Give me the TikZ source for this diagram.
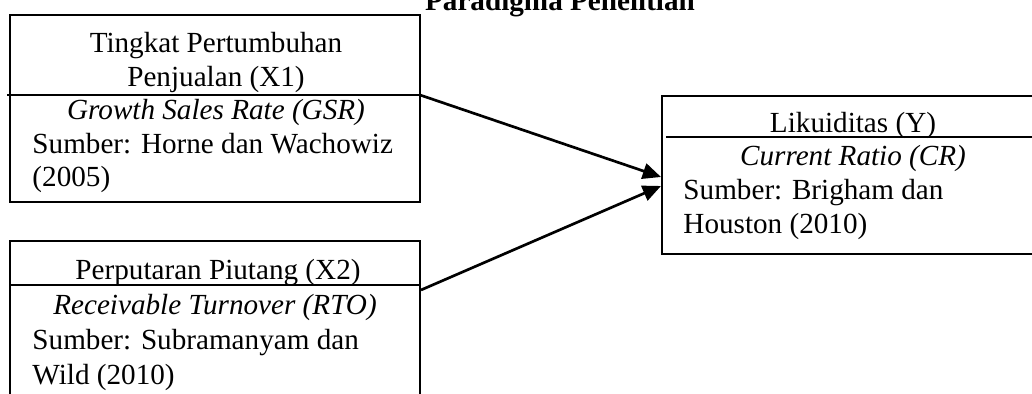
\documentclass[tikz,border=0pt]{standalone}
\usepackage{fontspec}
\setmainfont{Liberation Serif}
\usetikzlibrary{arrows.meta}

\tikzset{
  kotak/.style={draw, line width=0.8pt, inner sep=0},
  teks/.style={inner sep=0, font=\fontsize{12}{14}\selectfont},
  garis/.style={line width=0.8pt},
  panah/.style={-{Triangle[length=7.5pt,width=6.5pt]}, line width=1.1pt},
}

\begin{document}
\begin{tikzpicture}[x=0.4115pt, y=-0.4115pt]
\useasboundingbox (0,0) rectangle (1032,394);
\clip (0,0) rectangle (1032,394);

% Judul
\node[teks, font=\fontsize{12}{14}\selectfont\bfseries, anchor=base] (judul) at (560,11) {Paradigma Penelitian};

% Kotak X1
\node[kotak, minimum width=168.7pt, minimum height=77pt] (x1) at (215,108.5) {};
\coordinate (x1kanan) at (420,95);
\draw[garis] (7,95) -- (x1kanan);
\node[teks, anchor=base] (x1a) at (216,53) {Tingkat Pertumbuhan};
\node[teks, anchor=base] (x1b) at (216,87) {Penjualan (X1)};
\node[teks, anchor=base] (x1c) at (216,120) {\textit{Growth Sales Rate (GSR)}};
\node[teks, anchor=base west] (x1d) at (32,154) {Sumber: Horne dan Wachowiz};
\node[teks, anchor=base west] (x1e) at (32,187) {(2005)};

% Kotak X2 (terpotong di bawah)
\node[kotak, minimum width=168.7pt, minimum height=73.7pt] (x2) at (215,330.5) {};
\coordinate (x2kanan) at (420,285);
\coordinate (x2panah) at (421,290);
\draw[garis] (10,285) -- (x2kanan);
\node[teks, anchor=base] (x2a) at (218,280) {Perputaran Piutang (X2)};
\node[teks, anchor=base] (x2b) at (215,315) {\textit{Receivable Turnover (RTO)}};
\node[teks, anchor=base west] (x2c) at (32,350) {Sumber: Subramanyam dan};
\node[teks, anchor=base west] (x2d) at (32,385) {Wild (2010)};

% Kotak Y (terpotong di kanan)
\node[kotak, minimum width=180.2pt, minimum height=65pt] (y) at (881,175) {};
\coordinate (ykiri) at (666,137);
\draw[garis] (ykiri) -- (1040,137);
\node[teks, anchor=base] (ya) at (853,133) {Likuiditas (Y)};
\node[teks, anchor=base] (yb) at (853,166) {\textit{Current Ratio (CR)}};
\node[teks, anchor=base west] (yc) at (683,200) {Sumber: Brigham dan};
\node[teks, anchor=base west] (yd) at (683,234) {Houston (2010)};

% Panah
\coordinate (ymasuk1) at (661,177);
\coordinate (ymasuk2) at (661,186);
\draw[panah] (x1kanan) -- (ymasuk1);
\draw[panah] (x2panah) -- (ymasuk2);
\end{tikzpicture}
\end{document}
